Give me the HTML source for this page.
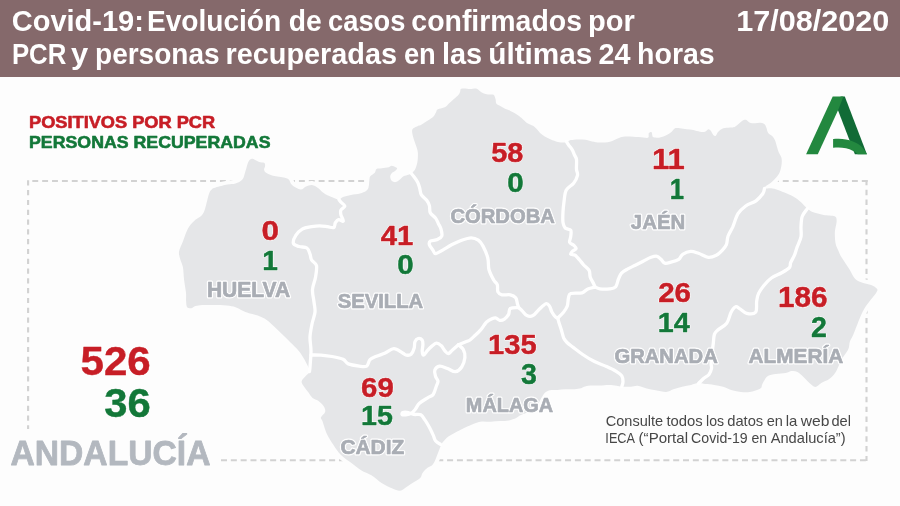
<!DOCTYPE html><html><head><meta charset="utf-8"><title>Covid-19 Andalucía</title>
<style>html,body{margin:0;padding:0;background:#fdfdfd;width:900px;height:506px;overflow:hidden}svg{display:block}</style></head><body>
<svg width="900" height="506" viewBox="0 0 900 506">
<rect width="900" height="506" fill="#fdfdfd"/>
<rect width="900" height="77" fill="#85696b"/>
<g stroke="#d2d2d2" stroke-width="2.1" fill="none"><line x1="32.3" y1="181" x2="868" y2="181" stroke-dasharray="5.9 3.975"/><line x1="24.4" y1="460.2" x2="867.4" y2="460.2" stroke-dasharray="6 3.83"/><line x1="28.1" y1="180.3" x2="28.1" y2="460" stroke-dasharray="5.2 4.6"/><line x1="866.5" y1="179.9" x2="866.5" y2="461" stroke-dasharray="5.4 4.46"/></g>
<rect x="0" y="429" width="218" height="46" fill="#fdfdfd"/>
<path d="M187,306.9 C186.2,305.7 186.3,303.5 186.1,301.1 C185.9,298.8 186.3,296.3 186,292.8 C185.7,289.3 184.6,284.3 184.1,280 C183.6,275.7 183.5,270.5 182.9,267.1 C182.3,263.7 181,262 180.3,259.4 C179.7,256.8 178.6,254.7 179,251.7 C179.4,248.7 181.4,245.2 182.9,241.4 C184.4,237.6 186.1,232 188,228.6 C189.9,225.2 191.8,223.4 194.4,220.8 C197,218.2 201,217.5 203.4,213.1 C205.8,208.7 207.4,198.4 208.8,194.5 C210.2,190.6 210.5,190.7 211.7,189.5 C212.8,188.3 213.1,188.3 215.7,187.5 C218.3,186.7 224.2,185.2 227.5,184.6 C230.8,183.9 233,184.4 235.5,183.6 C238,182.8 240.8,181.6 242.4,179.6 C244,177.6 244.3,174.6 245.3,171.7 C246.3,168.8 247.3,164 248.3,161.9 C249.3,159.8 250.2,159.2 251.3,158.9 C252.5,158.6 253.9,159.4 255.2,159.9 C256.5,160.4 257.7,161.4 259.2,161.9 C260.7,162.4 263.1,162.2 264.1,162.8 C265.1,163.5 265.1,164.6 265.1,165.8 C265.1,167 263.9,168.7 264.1,169.8 C264.3,171 264.6,171.7 266.1,172.7 C267.6,173.7 269.9,174.9 273,175.7 C276.1,176.5 282.3,177 284.9,177.7 C287.5,178.3 287.6,178.4 288.8,179.6 C290,180.8 290,183.3 292,185 C294,186.7 298.3,189.2 300.6,189.5 C302.9,189.8 304.1,187.2 306,186.5 C307.9,185.8 310,184.8 312,185 C314,185.2 316.2,186.8 318,188 C319.8,189.2 321.3,191.2 323,192.5 C324.7,193.8 326.2,194.6 328,195.5 C329.8,196.4 332.2,197.3 334,198 C335.8,198.7 337.5,199.7 339,199.5 C340.5,199.3 341,197.8 343,197 C345,196.2 348.2,195.6 351,195 C353.8,194.4 357.5,194.2 360,193.5 C362.5,192.8 364.6,192 366,191 C367.4,190 367.9,189.4 368.5,187.5 C369.1,185.6 369.1,181.6 369.4,179.7 C369.7,177.8 369.6,177.2 370.5,176 C371.4,174.8 373.8,173.9 374.8,172.7 C375.8,171.5 375.3,169.7 376.5,169 C377.7,168.3 379.8,168.6 381.8,168.3 C383.8,168 387.1,167.7 388.7,167.3 C390.3,166.9 390.5,165.8 391.7,165.8 C392.9,165.8 394.7,166.8 395.6,167.3 C396.5,167.8 397.3,168.1 397.1,168.8 C396.9,169.5 395.5,170.6 394.6,171.3 C393.7,172 392.4,172.3 391.7,173.2 C391,174.1 390.2,175.4 390.2,176.7 C390.2,177.9 390.8,179.8 391.7,180.7 C392.6,181.6 394.3,182.3 395.6,182.1 C396.9,181.9 398.3,180.7 399.6,179.7 C400.9,178.7 402,177 403.5,176.2 C405,175.4 407,175.3 408.5,174.7 C410,174.1 411.2,173.7 412.4,172.7 C413.5,171.7 414.6,170.6 415.4,168.8 C416.2,167 417,164.1 417.4,161.9 C417.8,159.8 417.9,157.9 417.9,155.9 C417.9,153.9 418.1,152.8 417.4,150 C416.7,147.2 414.7,142.3 413.8,139.3 C412.9,136.3 412.2,133.6 412.1,131.8 C412,130 412.3,129.3 413.3,128.3 C414.3,127.3 416.8,126.4 418,125.9 C419.2,125.4 419.4,125.8 420.4,125.3 C421.4,124.8 422.6,123.8 424,122.9 C425.4,122 427.1,121.1 428.7,120 C430.3,118.9 432.3,117.6 433.5,116.4 C434.7,115.2 435.2,113.9 435.8,112.8 C436.4,111.7 436.4,110.6 437,109.9 C437.6,109.2 438,109.2 439.4,108.7 C440.8,108.2 443.7,107.8 445.3,106.9 C446.9,106 447.5,104.7 448.9,103.4 C450.3,102.1 452,100.6 453.6,99.2 C455.2,97.8 457.3,96.3 458.4,95 C459.5,93.7 459.8,92.5 460.2,91.5 C460.6,90.5 460.1,89.6 460.8,89.1 C461.5,88.6 462.7,88.5 464.3,88.5 C465.9,88.5 468.2,89.1 470.2,89.1 C472.2,89.1 474.6,88.2 476.2,88.5 C477.8,88.8 478.5,90.1 479.7,90.9 C480.9,91.7 481.9,92.7 483.3,93.3 C484.7,93.9 486.4,94.3 488,94.5 C489.6,94.7 491.7,94.2 492.8,94.5 C493.9,94.8 494.1,95.3 494.6,96.2 C495.1,97.1 495.4,98.6 495.7,99.8 C496,101 495.6,102.4 496.3,103.4 C497,104.4 498.4,104.8 499.9,105.7 C501.3,106.6 503.6,108 505,108.7 C506.4,109.4 506.5,109.1 508,109.8 C509.5,110.5 512.2,111.8 514,112.8 C515.8,113.8 517.3,114.8 518.7,115.8 C520.1,116.8 520.9,117.5 522.3,118.7 C523.7,119.9 525.2,121.7 527,122.9 C528.8,124.1 531.4,124.8 533,125.8 C534.6,126.8 535.3,127.6 536.5,128.8 C537.7,130 538.7,131.7 540.1,133 C541.5,134.3 543,135.4 544.8,136.5 C546.6,137.6 548.6,138.6 550.8,139.5 C553,140.4 555.5,141.4 557.9,141.9 C560.3,142.4 563.2,142.5 565,142.4 C566.8,142.3 567.5,141.7 568.5,141.3 C569.5,140.9 569.3,140.4 570.9,140.1 C572.5,139.8 575.6,139.6 578,139.5 C580.4,139.4 582.9,139.5 585.2,139.8 C587.5,140.1 589.5,141.1 592,141.5 C594.5,141.9 597,142.5 600,142.5 C603,142.5 607,142.4 610,141.7 C613,141 616.1,139.1 618.3,138.3 C620.5,137.5 620.8,137 623.3,136.7 C625.8,136.4 630,136.6 633.3,136.7 C636.6,136.8 640.8,137.3 643.3,137.5 C645.8,137.7 647.3,138.2 648.2,137.6 C649.1,136.9 648.4,134.5 648.7,133.6 C649,132.7 649.5,132.4 650,132.2 C650.5,132 651.4,131.8 651.8,132.4 C652.2,133 652.1,135 652.4,135.8 C652.7,136.6 652.3,136.9 653.6,137.2 C654.9,137.5 657.8,137.9 660,137.5 C662.2,137.1 664.8,136 666.7,135 C668.7,134 670.3,132.8 671.7,131.7 C673.1,130.6 673.6,128.9 675,128.3 C676.4,127.7 678,128.2 680,128.3 C682,128.5 684.5,128.9 686.7,129.2 C688.9,129.5 691.1,129.6 693.3,130 C695.5,130.4 698,131.4 700,131.7 C702,132 703.6,132.1 705,131.7 C706.4,131.3 707.3,129.3 708.3,129.2 C709.3,129 710,129.8 710.8,130.8 C711.6,131.8 712.5,134.2 713.3,135 C714.1,135.8 715,136.4 715.8,135.8 C716.6,135.2 717,132.9 718.3,131.7 C719.5,130.4 721.3,129 723.3,128.3 C725.2,127.6 728,127.8 730,127.5 C732,127.2 732.9,127.8 735,126.7 C737.1,125.6 740.6,121.9 742.4,120.7 C744.2,119.5 744.8,119.5 746,119.8 C747.2,120.1 748,121.8 749.5,122.4 C751,123 753.1,123.2 754.9,123.3 C756.7,123.4 758.6,122.6 760.2,122.8 C761.8,123 763.6,123.4 764.6,124.2 C765.6,125 765.8,126.3 766.4,127.8 C767,129.3 767.2,131.6 768.2,133.1 C769.2,134.6 771.4,135.3 772.6,136.6 C773.8,137.9 774.5,139.3 775.3,141.1 C776,142.9 776.5,145.4 777.1,147.3 C777.7,149.2 778.1,150.8 778.8,152.6 C779.5,154.4 781,155.9 781.5,158 C782,160.1 781.8,162.7 781.5,165.1 C781.2,167.5 780.6,170.1 779.7,172.2 C778.8,174.3 777.7,175.7 776.2,177.5 C774.7,179.3 772.7,181.3 770.9,182.8 C769.1,184.3 766.6,185.5 765.5,186.4 C764.4,187.3 763.6,188.2 764.5,188.5 C765.4,188.8 768.6,188 770.9,188.2 C773.1,188.4 775.4,189 778,189.9 C780.6,190.8 783.8,192.2 786.8,193.5 C789.8,194.8 793.1,196.2 795.7,197.9 C798.3,199.6 800.3,201.6 802.3,203.4 C804.2,205.2 805.7,207.2 807.4,208.6 C809.1,210 809.9,211 812.6,212.1 C815.3,213.2 819.9,214.2 823.6,214.9 C827.3,215.6 832.5,215.2 834.7,216.3 C836.9,217.4 836.6,219.1 836.6,221.7 C836.6,224.2 835.1,228 834.9,231.6 C834.7,235.2 835,240.3 835.6,243.5 C836.2,246.7 837.5,248.7 838.5,251 C839.5,253.3 839.7,254.3 841.5,257.3 C843.3,260.3 847.1,265.6 849.4,269.2 C851.7,272.8 853,276.7 855.3,279 C857.6,281.3 860.6,282 863.2,283 C865.8,284 868.8,284 871.1,285 C873.4,286 876.3,287.6 877.1,288.9 C877.9,290.2 877.2,291 876.1,292.9 C875,294.8 872.4,297.5 870.5,300 C868.6,302.5 866.3,305.3 864.7,307.9 C863.1,310.5 862.1,312.8 860.8,315.8 C859.5,318.8 858.1,322.4 856.8,325.7 C855.5,329 854,333 852.9,335.6 C851.8,338.2 850.6,339.5 849.9,341.5 C849.2,343.5 849.4,345.8 848.9,347.4 C848.4,349 848,349.8 847,351.4 C846,353 844.3,355 843,357.3 C841.7,359.6 840.3,362.6 839,365.2 C837.7,367.8 836.7,370.8 835.1,373.1 C833.5,375.4 831.5,377.5 829.2,379.1 C826.9,380.8 823.6,381.7 821.3,383 C819,384.3 817.3,387 815.3,387 C813.3,387 811.4,384.6 809.4,383 C807.4,381.4 805.5,378.9 803.5,377.1 C801.5,375.3 799.5,373.1 797.5,372.1 C795.5,371.1 793.6,370.9 791.6,371.1 C789.6,371.3 788.3,372.6 785.7,373.1 C783.1,373.6 778.8,373.6 775.8,374.1 C772.8,374.6 769.9,375 767.9,376.1 C765.9,377.2 765,379.5 764,381 C763,382.5 762.6,383.8 762,385 C761.4,386.2 762.4,387.2 760.4,388.4 C758.4,389.6 753,391.4 749.8,392 C746.5,392.6 743.9,392.3 740.9,392 C737.9,391.7 735,391.1 732,390.2 C729,389.3 726.1,387.6 723.1,386.7 C720.1,385.8 717.2,385.3 714.2,384.9 C711.2,384.4 708,384.3 705.3,384 C702.6,383.7 700.6,383 698.2,383.1 C695.8,383.2 693.8,384.3 691.1,384.9 C688.4,385.5 685.2,386 682.2,386.7 C679.2,387.4 676,388.4 673.3,389.3 C670.6,390.2 669.2,391.9 666.2,392 C663.2,392.1 658.9,390.8 655.6,390.2 C652.4,389.6 649.7,389.1 646.7,388.4 C643.7,387.7 640.5,386.1 637.8,385.8 C635.1,385.5 633.4,386.6 630.7,386.7 C628,386.8 624.1,386.9 621.8,386.7 C619.4,386.5 618.8,386 616.6,385.7 C614.5,385.4 611.8,385 608.9,385 C606,385 602.6,385.4 599.5,385.5 C596.4,385.6 592.8,385.3 590.2,385.5 C587.6,385.7 585.5,386.3 584,386.8 C582.5,387.3 582.5,387.9 580.9,388.3 C579.3,388.7 577.2,389.1 574.6,389.3 C572,389.5 568.1,389.2 565.3,389.3 C562.4,389.4 559.8,389.9 557.5,390 C555.2,390.1 553.1,389.8 551.3,390 C549.5,390.2 548,390.6 546.7,391.4 C545.4,392.1 545,392.3 543.5,394.5 C542,396.7 539.3,402.2 537.4,404.8 C535.5,407.4 534.1,408.6 532,410 C529.9,411.4 526.8,412.6 524.8,413.5 C522.8,414.4 521.3,414.9 519.9,415.6 C518.5,416.4 518,417.2 516.2,418 C514.4,418.8 511.5,420 508.9,420.5 C506.2,421 503.4,420.9 500.3,421.1 C497.2,421.3 493.7,421.6 490.6,421.7 C487.6,421.8 484.4,421.3 482,421.5 C479.6,421.7 478.3,422.1 475.9,423 C473.4,423.9 469.6,425.6 467.3,426.6 C465,427.6 464.3,427.9 462.3,428.9 C460.3,429.9 457.7,431.1 455.4,432.4 C453.1,433.7 450.5,434.9 448.4,436.5 C446.3,438.1 444.3,440.2 442.9,442.1 C441.5,444 441,445.5 440.1,447.6 C439.2,449.7 438.3,452.2 437.4,454.5 C436.5,456.8 435.5,459.6 434.6,461.4 C433.7,463.2 432.9,464.5 431.8,465.5 C430.7,466.5 429.4,466.4 427.9,467.6 C426.4,468.8 424,471 422.7,472.7 C421.4,474.4 421.9,476.2 420.2,477.9 C418.5,479.6 415.1,481.3 412.5,483 C409.9,484.7 406.9,486.9 404.8,488.2 C402.7,489.5 401.8,490.7 399.6,490.7 C397.5,490.7 394.9,489.5 391.9,488.2 C388.9,486.9 385,485.1 381.6,483 C378.2,480.9 374.8,477.4 371.4,475.3 C368,473.2 364.5,472.3 361.1,470.2 C357.7,468.1 354.2,465 350.8,462.5 C347.4,460 343.9,457.9 341,455 C338.1,452.1 335.8,448.5 333.5,445 C331.2,441.5 328.8,438.1 327,434.2 C325.2,430.3 323.6,424.2 322.6,421.4 C321.6,418.6 320.5,419 320.9,417.4 C321.3,415.8 324.6,413.8 325.1,411.9 C325.6,410 324.9,408.1 323.7,406.3 C322.5,404.5 320,402.2 318.2,400.8 C316.4,399.4 314.2,399.4 312.6,398 C311,396.6 309.9,394.3 308.5,392.5 C307.1,390.7 305.4,388.9 304.3,387 C303.2,385.1 301.4,383.2 301.6,381.4 C301.8,379.5 304.3,377.5 305.7,375.9 C307.1,374.3 309.4,373.1 309.9,371.7 C310.4,370.3 309.4,369.7 308.5,367.6 C307.6,365.5 305.9,362.1 304.3,359.3 C302.7,356.5 301.1,353.7 298.8,350.9 C296.5,348.1 293.3,345.4 290.5,342.6 C287.7,339.8 284.9,337 282.2,334.3 C279.5,331.6 277,329.1 274.4,326.7 C271.8,324.3 269.5,321.9 266.7,320 C263.9,318.1 260.8,316.7 257.8,315.6 C254.8,314.5 251.5,314.1 248.9,313.3 C246.3,312.5 244.4,311.6 242.2,310.6 C240,309.6 238.2,308 235.6,307.2 C233,306.4 230.4,306 226.7,305.6 C223,305.2 217.4,305.1 213.3,305 C209.2,304.9 205.1,304.8 202.2,305 C199.2,305.2 197.4,305.6 195.6,306.1 C193.8,306.7 192.5,308.2 191.1,308.3 C189.7,308.4 187.8,308.1 187,306.9 Z" fill="#fdfdfd" stroke="#fdfdfd" stroke-width="8" stroke-linejoin="round"/>
<path d="M187,306.9 C186.2,305.7 186.3,303.5 186.1,301.1 C185.9,298.8 186.3,296.3 186,292.8 C185.7,289.3 184.6,284.3 184.1,280 C183.6,275.7 183.5,270.5 182.9,267.1 C182.3,263.7 181,262 180.3,259.4 C179.7,256.8 178.6,254.7 179,251.7 C179.4,248.7 181.4,245.2 182.9,241.4 C184.4,237.6 186.1,232 188,228.6 C189.9,225.2 191.8,223.4 194.4,220.8 C197,218.2 201,217.5 203.4,213.1 C205.8,208.7 207.4,198.4 208.8,194.5 C210.2,190.6 210.5,190.7 211.7,189.5 C212.8,188.3 213.1,188.3 215.7,187.5 C218.3,186.7 224.2,185.2 227.5,184.6 C230.8,183.9 233,184.4 235.5,183.6 C238,182.8 240.8,181.6 242.4,179.6 C244,177.6 244.3,174.6 245.3,171.7 C246.3,168.8 247.3,164 248.3,161.9 C249.3,159.8 250.2,159.2 251.3,158.9 C252.5,158.6 253.9,159.4 255.2,159.9 C256.5,160.4 257.7,161.4 259.2,161.9 C260.7,162.4 263.1,162.2 264.1,162.8 C265.1,163.5 265.1,164.6 265.1,165.8 C265.1,167 263.9,168.7 264.1,169.8 C264.3,171 264.6,171.7 266.1,172.7 C267.6,173.7 269.9,174.9 273,175.7 C276.1,176.5 282.3,177 284.9,177.7 C287.5,178.3 287.6,178.4 288.8,179.6 C290,180.8 290,183.3 292,185 C294,186.7 298.3,189.2 300.6,189.5 C302.9,189.8 304.1,187.2 306,186.5 C307.9,185.8 310,184.8 312,185 C314,185.2 316.2,186.8 318,188 C319.8,189.2 321.3,191.2 323,192.5 C324.7,193.8 326.2,194.6 328,195.5 C329.8,196.4 332.2,197.3 334,198 C335.8,198.7 337.5,199.7 339,199.5 C340.5,199.3 341,197.8 343,197 C345,196.2 348.2,195.6 351,195 C353.8,194.4 357.5,194.2 360,193.5 C362.5,192.8 364.6,192 366,191 C367.4,190 367.9,189.4 368.5,187.5 C369.1,185.6 369.1,181.6 369.4,179.7 C369.7,177.8 369.6,177.2 370.5,176 C371.4,174.8 373.8,173.9 374.8,172.7 C375.8,171.5 375.3,169.7 376.5,169 C377.7,168.3 379.8,168.6 381.8,168.3 C383.8,168 387.1,167.7 388.7,167.3 C390.3,166.9 390.5,165.8 391.7,165.8 C392.9,165.8 394.7,166.8 395.6,167.3 C396.5,167.8 397.3,168.1 397.1,168.8 C396.9,169.5 395.5,170.6 394.6,171.3 C393.7,172 392.4,172.3 391.7,173.2 C391,174.1 390.2,175.4 390.2,176.7 C390.2,177.9 390.8,179.8 391.7,180.7 C392.6,181.6 394.3,182.3 395.6,182.1 C396.9,181.9 398.3,180.7 399.6,179.7 C400.9,178.7 402,177 403.5,176.2 C405,175.4 407,175.3 408.5,174.7 C410,174.1 411.2,173.7 412.4,172.7 C413.5,171.7 414.6,170.6 415.4,168.8 C416.2,167 417,164.1 417.4,161.9 C417.8,159.8 417.9,157.9 417.9,155.9 C417.9,153.9 418.1,152.8 417.4,150 C416.7,147.2 414.7,142.3 413.8,139.3 C412.9,136.3 412.2,133.6 412.1,131.8 C412,130 412.3,129.3 413.3,128.3 C414.3,127.3 416.8,126.4 418,125.9 C419.2,125.4 419.4,125.8 420.4,125.3 C421.4,124.8 422.6,123.8 424,122.9 C425.4,122 427.1,121.1 428.7,120 C430.3,118.9 432.3,117.6 433.5,116.4 C434.7,115.2 435.2,113.9 435.8,112.8 C436.4,111.7 436.4,110.6 437,109.9 C437.6,109.2 438,109.2 439.4,108.7 C440.8,108.2 443.7,107.8 445.3,106.9 C446.9,106 447.5,104.7 448.9,103.4 C450.3,102.1 452,100.6 453.6,99.2 C455.2,97.8 457.3,96.3 458.4,95 C459.5,93.7 459.8,92.5 460.2,91.5 C460.6,90.5 460.1,89.6 460.8,89.1 C461.5,88.6 462.7,88.5 464.3,88.5 C465.9,88.5 468.2,89.1 470.2,89.1 C472.2,89.1 474.6,88.2 476.2,88.5 C477.8,88.8 478.5,90.1 479.7,90.9 C480.9,91.7 481.9,92.7 483.3,93.3 C484.7,93.9 486.4,94.3 488,94.5 C489.6,94.7 491.7,94.2 492.8,94.5 C493.9,94.8 494.1,95.3 494.6,96.2 C495.1,97.1 495.4,98.6 495.7,99.8 C496,101 495.6,102.4 496.3,103.4 C497,104.4 498.4,104.8 499.9,105.7 C501.3,106.6 503.6,108 505,108.7 C506.4,109.4 506.5,109.1 508,109.8 C509.5,110.5 512.2,111.8 514,112.8 C515.8,113.8 517.3,114.8 518.7,115.8 C520.1,116.8 520.9,117.5 522.3,118.7 C523.7,119.9 525.2,121.7 527,122.9 C528.8,124.1 531.4,124.8 533,125.8 C534.6,126.8 535.3,127.6 536.5,128.8 C537.7,130 538.7,131.7 540.1,133 C541.5,134.3 543,135.4 544.8,136.5 C546.6,137.6 548.6,138.6 550.8,139.5 C553,140.4 555.5,141.4 557.9,141.9 C560.3,142.4 563.2,142.5 565,142.4 C566.8,142.3 567.5,141.7 568.5,141.3 C569.5,140.9 569.3,140.4 570.9,140.1 C572.5,139.8 575.6,139.6 578,139.5 C580.4,139.4 582.9,139.5 585.2,139.8 C587.5,140.1 589.5,141.1 592,141.5 C594.5,141.9 597,142.5 600,142.5 C603,142.5 607,142.4 610,141.7 C613,141 616.1,139.1 618.3,138.3 C620.5,137.5 620.8,137 623.3,136.7 C625.8,136.4 630,136.6 633.3,136.7 C636.6,136.8 640.8,137.3 643.3,137.5 C645.8,137.7 647.3,138.2 648.2,137.6 C649.1,136.9 648.4,134.5 648.7,133.6 C649,132.7 649.5,132.4 650,132.2 C650.5,132 651.4,131.8 651.8,132.4 C652.2,133 652.1,135 652.4,135.8 C652.7,136.6 652.3,136.9 653.6,137.2 C654.9,137.5 657.8,137.9 660,137.5 C662.2,137.1 664.8,136 666.7,135 C668.7,134 670.3,132.8 671.7,131.7 C673.1,130.6 673.6,128.9 675,128.3 C676.4,127.7 678,128.2 680,128.3 C682,128.5 684.5,128.9 686.7,129.2 C688.9,129.5 691.1,129.6 693.3,130 C695.5,130.4 698,131.4 700,131.7 C702,132 703.6,132.1 705,131.7 C706.4,131.3 707.3,129.3 708.3,129.2 C709.3,129 710,129.8 710.8,130.8 C711.6,131.8 712.5,134.2 713.3,135 C714.1,135.8 715,136.4 715.8,135.8 C716.6,135.2 717,132.9 718.3,131.7 C719.5,130.4 721.3,129 723.3,128.3 C725.2,127.6 728,127.8 730,127.5 C732,127.2 732.9,127.8 735,126.7 C737.1,125.6 740.6,121.9 742.4,120.7 C744.2,119.5 744.8,119.5 746,119.8 C747.2,120.1 748,121.8 749.5,122.4 C751,123 753.1,123.2 754.9,123.3 C756.7,123.4 758.6,122.6 760.2,122.8 C761.8,123 763.6,123.4 764.6,124.2 C765.6,125 765.8,126.3 766.4,127.8 C767,129.3 767.2,131.6 768.2,133.1 C769.2,134.6 771.4,135.3 772.6,136.6 C773.8,137.9 774.5,139.3 775.3,141.1 C776,142.9 776.5,145.4 777.1,147.3 C777.7,149.2 778.1,150.8 778.8,152.6 C779.5,154.4 781,155.9 781.5,158 C782,160.1 781.8,162.7 781.5,165.1 C781.2,167.5 780.6,170.1 779.7,172.2 C778.8,174.3 777.7,175.7 776.2,177.5 C774.7,179.3 772.7,181.3 770.9,182.8 C769.1,184.3 766.6,185.5 765.5,186.4 C764.4,187.3 763.6,188.2 764.5,188.5 C765.4,188.8 768.6,188 770.9,188.2 C773.1,188.4 775.4,189 778,189.9 C780.6,190.8 783.8,192.2 786.8,193.5 C789.8,194.8 793.1,196.2 795.7,197.9 C798.3,199.6 800.3,201.6 802.3,203.4 C804.2,205.2 805.7,207.2 807.4,208.6 C809.1,210 809.9,211 812.6,212.1 C815.3,213.2 819.9,214.2 823.6,214.9 C827.3,215.6 832.5,215.2 834.7,216.3 C836.9,217.4 836.6,219.1 836.6,221.7 C836.6,224.2 835.1,228 834.9,231.6 C834.7,235.2 835,240.3 835.6,243.5 C836.2,246.7 837.5,248.7 838.5,251 C839.5,253.3 839.7,254.3 841.5,257.3 C843.3,260.3 847.1,265.6 849.4,269.2 C851.7,272.8 853,276.7 855.3,279 C857.6,281.3 860.6,282 863.2,283 C865.8,284 868.8,284 871.1,285 C873.4,286 876.3,287.6 877.1,288.9 C877.9,290.2 877.2,291 876.1,292.9 C875,294.8 872.4,297.5 870.5,300 C868.6,302.5 866.3,305.3 864.7,307.9 C863.1,310.5 862.1,312.8 860.8,315.8 C859.5,318.8 858.1,322.4 856.8,325.7 C855.5,329 854,333 852.9,335.6 C851.8,338.2 850.6,339.5 849.9,341.5 C849.2,343.5 849.4,345.8 848.9,347.4 C848.4,349 848,349.8 847,351.4 C846,353 844.3,355 843,357.3 C841.7,359.6 840.3,362.6 839,365.2 C837.7,367.8 836.7,370.8 835.1,373.1 C833.5,375.4 831.5,377.5 829.2,379.1 C826.9,380.8 823.6,381.7 821.3,383 C819,384.3 817.3,387 815.3,387 C813.3,387 811.4,384.6 809.4,383 C807.4,381.4 805.5,378.9 803.5,377.1 C801.5,375.3 799.5,373.1 797.5,372.1 C795.5,371.1 793.6,370.9 791.6,371.1 C789.6,371.3 788.3,372.6 785.7,373.1 C783.1,373.6 778.8,373.6 775.8,374.1 C772.8,374.6 769.9,375 767.9,376.1 C765.9,377.2 765,379.5 764,381 C763,382.5 762.6,383.8 762,385 C761.4,386.2 762.4,387.2 760.4,388.4 C758.4,389.6 753,391.4 749.8,392 C746.5,392.6 743.9,392.3 740.9,392 C737.9,391.7 735,391.1 732,390.2 C729,389.3 726.1,387.6 723.1,386.7 C720.1,385.8 717.2,385.3 714.2,384.9 C711.2,384.4 708,384.3 705.3,384 C702.6,383.7 700.6,383 698.2,383.1 C695.8,383.2 693.8,384.3 691.1,384.9 C688.4,385.5 685.2,386 682.2,386.7 C679.2,387.4 676,388.4 673.3,389.3 C670.6,390.2 669.2,391.9 666.2,392 C663.2,392.1 658.9,390.8 655.6,390.2 C652.4,389.6 649.7,389.1 646.7,388.4 C643.7,387.7 640.5,386.1 637.8,385.8 C635.1,385.5 633.4,386.6 630.7,386.7 C628,386.8 624.1,386.9 621.8,386.7 C619.4,386.5 618.8,386 616.6,385.7 C614.5,385.4 611.8,385 608.9,385 C606,385 602.6,385.4 599.5,385.5 C596.4,385.6 592.8,385.3 590.2,385.5 C587.6,385.7 585.5,386.3 584,386.8 C582.5,387.3 582.5,387.9 580.9,388.3 C579.3,388.7 577.2,389.1 574.6,389.3 C572,389.5 568.1,389.2 565.3,389.3 C562.4,389.4 559.8,389.9 557.5,390 C555.2,390.1 553.1,389.8 551.3,390 C549.5,390.2 548,390.6 546.7,391.4 C545.4,392.1 545,392.3 543.5,394.5 C542,396.7 539.3,402.2 537.4,404.8 C535.5,407.4 534.1,408.6 532,410 C529.9,411.4 526.8,412.6 524.8,413.5 C522.8,414.4 521.3,414.9 519.9,415.6 C518.5,416.4 518,417.2 516.2,418 C514.4,418.8 511.5,420 508.9,420.5 C506.2,421 503.4,420.9 500.3,421.1 C497.2,421.3 493.7,421.6 490.6,421.7 C487.6,421.8 484.4,421.3 482,421.5 C479.6,421.7 478.3,422.1 475.9,423 C473.4,423.9 469.6,425.6 467.3,426.6 C465,427.6 464.3,427.9 462.3,428.9 C460.3,429.9 457.7,431.1 455.4,432.4 C453.1,433.7 450.5,434.9 448.4,436.5 C446.3,438.1 444.3,440.2 442.9,442.1 C441.5,444 441,445.5 440.1,447.6 C439.2,449.7 438.3,452.2 437.4,454.5 C436.5,456.8 435.5,459.6 434.6,461.4 C433.7,463.2 432.9,464.5 431.8,465.5 C430.7,466.5 429.4,466.4 427.9,467.6 C426.4,468.8 424,471 422.7,472.7 C421.4,474.4 421.9,476.2 420.2,477.9 C418.5,479.6 415.1,481.3 412.5,483 C409.9,484.7 406.9,486.9 404.8,488.2 C402.7,489.5 401.8,490.7 399.6,490.7 C397.5,490.7 394.9,489.5 391.9,488.2 C388.9,486.9 385,485.1 381.6,483 C378.2,480.9 374.8,477.4 371.4,475.3 C368,473.2 364.5,472.3 361.1,470.2 C357.7,468.1 354.2,465 350.8,462.5 C347.4,460 343.9,457.9 341,455 C338.1,452.1 335.8,448.5 333.5,445 C331.2,441.5 328.8,438.1 327,434.2 C325.2,430.3 323.6,424.2 322.6,421.4 C321.6,418.6 320.5,419 320.9,417.4 C321.3,415.8 324.6,413.8 325.1,411.9 C325.6,410 324.9,408.1 323.7,406.3 C322.5,404.5 320,402.2 318.2,400.8 C316.4,399.4 314.2,399.4 312.6,398 C311,396.6 309.9,394.3 308.5,392.5 C307.1,390.7 305.4,388.9 304.3,387 C303.2,385.1 301.4,383.2 301.6,381.4 C301.8,379.5 304.3,377.5 305.7,375.9 C307.1,374.3 309.4,373.1 309.9,371.7 C310.4,370.3 309.4,369.7 308.5,367.6 C307.6,365.5 305.9,362.1 304.3,359.3 C302.7,356.5 301.1,353.7 298.8,350.9 C296.5,348.1 293.3,345.4 290.5,342.6 C287.7,339.8 284.9,337 282.2,334.3 C279.5,331.6 277,329.1 274.4,326.7 C271.8,324.3 269.5,321.9 266.7,320 C263.9,318.1 260.8,316.7 257.8,315.6 C254.8,314.5 251.5,314.1 248.9,313.3 C246.3,312.5 244.4,311.6 242.2,310.6 C240,309.6 238.2,308 235.6,307.2 C233,306.4 230.4,306 226.7,305.6 C223,305.2 217.4,305.1 213.3,305 C209.2,304.9 205.1,304.8 202.2,305 C199.2,305.2 197.4,305.6 195.6,306.1 C193.8,306.7 192.5,308.2 191.1,308.3 C189.7,308.4 187.8,308.1 187,306.9 Z" fill="#e5e6e8"/>
<g fill="none" stroke="#fff" stroke-width="3.3" stroke-linejoin="round" stroke-linecap="round">
<path d="M339,199.5 C339.3,199.9 339.9,201.1 340.9,202.2 C341.9,203.3 344.9,204.8 344.9,206.1 C344.9,207.4 341.6,208.6 340.9,210.1 C340.2,211.6 340.5,213 340.9,214.8 C341.3,216.6 343.7,220.3 343.3,221.1 C342.9,221.9 339.8,219.3 338.5,219.6 C337.2,219.9 336.2,221.4 335.4,222.7 C334.6,224 335.1,226.8 333.8,227.5 C332.5,228.2 329.9,227 327.5,226.7 C325.1,226.4 322.2,225.9 319.6,225.9 C317,225.9 314.5,226.2 311.6,226.7 C308.7,227.2 304.8,227.6 302.2,229.1 C299.6,230.6 297.3,233 295.8,235.4 C294.3,237.8 292.9,241.5 293.4,243.3 C293.9,245.2 296.8,245.7 299,246.5 C301.2,247.3 305,246.7 306.9,248 C308.8,249.3 309.3,252.4 310.1,254.4 C310.9,256.4 310.5,258.1 311.6,260 C312.7,261.9 315.9,262.7 316.5,265.6 C317.1,268.5 316.2,273.4 315.5,277.4 C314.8,281.4 312.8,285.4 312.5,289.5 C312.2,293.6 313.6,298.2 314,302 C314.4,305.8 315.3,308.3 315,312 C314.7,315.7 312.8,319.8 312,324 C311.2,328.2 310.2,332.5 310,337 C309.8,341.5 311,346 311,351 C311,356 310.2,363.6 310,367 C309.8,370.4 309.6,370.8 309.5,371.5"/>
<path d="M311,355 C312.6,355 317.4,354.9 320.9,355.1 C324.4,355.4 328.3,355.8 332,356.5 C335.7,357.2 340.4,358.1 343.1,359.3 C345.8,360.5 345.6,362.8 348.3,363.9 C351,365 356,365.7 359.1,366.1 C362.2,366.5 364.9,367.2 366.7,366.1 C368.5,365 368.4,361.2 370,359.6 C371.6,358 374,357.4 376.5,356.3 C379,355.2 382.3,354.3 385.2,353 C388.1,351.7 391,348.7 393.9,348.7 C396.8,348.7 400.5,351.9 402.6,353 C404.7,354.1 404.9,354.9 406.3,355.1 C407.7,355.3 409.8,355.5 411.1,354.3 C412.4,353.1 413.6,350.1 414.2,348 C414.8,345.9 414.3,343.2 415,341.6 C415.7,340 417,338.8 418.2,338.5 C419.4,338.2 421.4,339.1 422.2,340.1 C423,341.2 422.9,343 422.9,344.8 C422.9,346.6 422.1,349.4 422.2,351.1 C422.3,352.8 422.9,355.1 423.7,355.1 C424.5,355.1 425.6,352.6 426.9,351.1 C428.2,349.7 430,347.7 431.6,346.4 C433.2,345.1 434.8,343.3 436.4,343.2 C438,343.1 439.7,344.3 441.1,345.6 C442.6,346.9 443.9,349.8 445.1,351.1 C446.3,352.4 447.1,353.6 448.3,353.5 C449.5,353.4 450.5,351.8 452.2,350.3 C453.9,348.9 457.4,345.7 458.5,344.8"/>
<path d="M458.5,344.8 C459.8,344.3 464.6,342.4 466.5,341.6 C468.4,340.8 468.6,341 470,340 C471.4,339 472.9,337.5 474.7,335.8 C476.5,334.1 479.1,331.6 480.7,329.8 C482.3,328 483.2,326.4 484.2,325.1 C485.2,323.8 485.4,323.1 486.6,322.1 C487.8,321.1 489.9,319.8 491.4,319.1 C492.9,318.4 494.1,317.7 495.5,317.9 C496.9,318.1 498.2,320.1 499.7,320.3 C501.2,320.5 502.9,320.1 504.4,319.1 C505.9,318.1 507.6,316.2 508.6,314.4 C509.6,312.6 508.6,309.6 510.3,308.5 C512,307.4 517.2,307.7 518.6,307.5"/>
<path d="M518.6,307.5 C519.2,308.1 520.8,309.4 522.2,310.8 C523.6,312.2 525.1,314.8 526.9,315.6 C528.7,316.4 530.9,316.6 532.9,315.6 C534.9,314.6 536.6,311.7 538.8,309.7 C541,307.7 544.1,304.3 545.9,303.7 C547.7,303.1 548.5,304.7 549.5,306.1 C550.5,307.5 550.9,310.2 551.9,312 C552.9,313.8 554.4,315.8 555.4,316.8 C556.4,317.8 557.4,317.8 557.8,318"/>
<path d="M410.7,172.7 C411.3,173.4 413,175.5 414.2,177.1 C415.4,178.7 416.9,180.7 417.8,182.5 C418.7,184.3 419,185.7 419.6,187.8 C420.2,189.9 420.2,192.8 421.4,194.9 C422.6,197 425.4,198.5 426.7,200.3 C428,202.1 428.8,203.5 429.4,205.6 C430,207.7 429.3,210.6 430.3,212.7 C431.3,214.8 434.3,216.3 435.6,218.1 C436.9,219.9 437.4,221.6 438.3,223.4 C439.2,225.2 440.3,226.6 440.9,228.7 C441.5,230.8 442.4,234.1 441.8,235.9 C441.2,237.7 439.3,238.5 437.4,239.4 C435.5,240.3 431.6,240.3 430.3,241.2 C429,242.1 429,243.3 429.4,244.8 C429.8,246.3 431.9,248.6 432.9,250.1 C433.9,251.6 434,253.7 435.6,253.7 C437.2,253.7 440,251.6 442.7,250.1 C445.4,248.6 448.4,246.5 451.6,244.8 C454.8,243.2 458.4,241.4 461.7,240.2 C465,239 468.4,237.8 471.2,237.8 C474,237.8 476.3,238.8 478.3,240.2 C480.3,241.6 481.4,243.1 483,246.1 C484.6,249.1 486.8,254.1 487.8,258 C488.8,261.9 488,266.1 489,269.8 C490,273.5 492.3,277.5 493.7,280 C495.1,282.5 496.6,282.7 497.3,284.7 C498,286.7 497.1,290.2 497.9,291.9 C498.7,293.6 499.9,294.3 502,294.8 C504.1,295.3 508,294.3 510.3,294.8 C512.6,295.3 514.5,296.3 515.7,297.8 C516.9,299.3 516.9,302.1 517.4,303.7 C517.9,305.3 518.4,306.9 518.6,307.5"/>
<path d="M566.5,141.5 C566.8,142.1 567.6,143.5 568.5,144.8 C569.4,146.2 571.1,147.9 572.1,149.6 C573.1,151.3 573.8,153.3 574.5,155 C575.2,156.7 576.2,157.1 576.5,159.5 C576.8,161.9 576.3,166.8 576.5,169.4 C576.7,172 578,173 577.5,175.3 C577,177.6 575.5,180.8 573.6,183.2 C571.7,185.6 567.9,187.1 566.3,190 C564.7,192.9 564.6,197.3 564.1,200.9 C563.6,204.5 563.2,208.1 563,211.7 C562.8,215.3 562.6,219.9 563,222.6 C563.4,225.3 563.9,226.7 565.2,228 C566.5,229.3 569.8,228.8 570.7,230.2 C571.6,231.6 570.9,234.7 570.7,236.7 C570.5,238.7 569.1,240.8 569.6,242.2 C570.1,243.6 572.8,244.3 573.9,245.4 C575,246.5 576.3,247.8 576.1,248.7 C575.9,249.6 573.7,250 572.8,250.9 C571.9,251.8 570.3,253.4 570.7,254.1 C571.1,254.8 573.6,254.3 575,255.2 C576.4,256.1 577.8,258 579.3,259.6 C580.8,261.2 582.1,263.2 583.7,265 C585.3,266.8 588,268.4 589.1,270.4 C590.2,272.4 589.5,274.8 590.2,277 C590.9,279.2 592.7,281.8 593.5,283.5 C594.3,285.2 594.8,286.4 595,287"/>
<path d="M595,287 C595.8,287.3 597.4,288.6 599.8,288.9 C602.2,289.2 607,289.2 609.6,288.9 C612.2,288.6 614.1,288.5 615.6,286.9 C617.1,285.2 617.5,281.3 618.5,279 C619.5,276.7 620,274.8 621.5,273.1 C623,271.5 625.1,270.4 627.4,269.1 C629.7,267.8 632.7,266.5 635.3,265.2 C637.9,263.9 640.6,262.5 643.2,261.2 C645.8,259.9 648.8,258.1 651.1,257.3 C653.4,256.5 655.4,256 657,256.3 C658.6,256.6 659.7,258.2 661,259.3 C662.3,260.4 663.2,262.7 664.9,263.2 C666.5,263.7 668.6,262.8 670.9,262.2 C673.2,261.6 676.8,260.6 678.8,259.3 C680.8,258 680.7,255.6 682.7,254.3 C684.7,253 688,251.6 690.6,251.4 C693.2,251.2 695.5,252.3 698.5,253.3 C701.5,254.3 705.4,257 708.4,257.3 C711.4,257.6 714,256.4 716.3,255.3 C718.6,254.2 720.5,252.2 722.2,250.4 C723.9,248.6 725.4,247 726.4,244.6 C727.4,242.2 727,239 728.1,236 C729.2,233 731.2,230.3 732.9,226.6 C734.5,222.9 735.9,217.1 738,213.7 C740.1,210.3 742.7,208.2 745.7,206 C748.7,203.8 753.1,202.9 756,200.8 C758.9,198.7 761.5,195.6 762.9,193.5 C764.3,191.4 764.2,189.3 764.5,188.5"/>
<path d="M595,287 C593.8,287.3 590.1,287.9 587.9,288.9 C585.7,289.9 584.9,292 582,292.8 C579.1,293.6 573,292.7 570.8,293.5 C568.5,294.3 569.1,295.7 568.5,297.8 C567.9,299.9 568.1,303.7 567.3,306.1 C566.5,308.5 565.3,310 563.7,312 C562.1,314 558.8,317 557.8,318"/>
<path d="M557.8,318 C558,318.8 558.4,320.7 559,322.7 C559.6,324.7 560.5,327.2 561.3,329.8 C562.1,332.4 562.8,335.9 563.7,338 C564.7,340.1 565.4,340.9 567,342.5 C568.6,344.1 570.6,345.4 573.2,347.4 C575.8,349.4 579.2,352.1 582.7,354.5 C586.2,356.9 590.5,359.6 594.5,361.6 C598.5,363.6 602.9,364.8 606.4,366.4 C609.9,368 613.2,369.5 615.8,371.1 C618.4,372.7 620.6,374 621.8,375.8 C623,377.6 623,380 623,381.8 C623,383.6 622,385.7 621.8,386.5"/>
<path d="M807.4,208.6 C806.5,209.9 803.4,213.3 802.3,216.3 C801.2,219.3 801.2,223.2 801,226.6 C800.8,230 801.6,233.4 801,236.8 C800.4,240.2 798.2,244.1 797.1,247.1 C796,250.1 795.7,252.2 794.6,254.8 C793.5,257.4 791.6,260.4 790.7,262.5 C789.8,264.6 790.9,266 789.4,267.7 C787.9,269.4 784.7,271.1 781.7,272.8 C778.7,274.5 774.4,275.9 771.4,278 C768.4,280.1 765.8,283.1 763.7,285.7 C761.6,288.3 759.8,290.8 758.6,293.4 C757.4,296 757.2,298 756.7,301.1 C756.2,304.2 757.3,310.2 755.6,312.2 C753.9,314.2 749.3,313.9 746.7,313.3 C744.1,312.8 741.9,310 740,308.9 C738.1,307.8 737.1,306.1 735.6,306.7 C734.1,307.2 732.6,309.4 731.1,312.2 C729.6,315 728.9,320.3 726.7,323.3 C724.5,326.3 719.8,328.1 717.8,330 C715.8,331.9 715.1,332.2 714.4,334.4 C713.6,336.6 713.7,340.3 713.3,343.3 C712.9,346.3 712.6,348.9 712.2,352.2 C711.8,355.5 711.2,360.6 711.1,363.3 C711,366 711.9,366.6 711.5,368.5 C711.1,370.4 710.3,372.8 709,374.5 C707.7,376.2 705.4,377 703.6,378.5 C701.9,380 699.4,382.7 698.5,383.5"/>
<path d="M458.5,344.8 C459.3,345.6 462.2,347.5 463.3,349.6 C464.4,351.7 465.2,354.6 464.9,357.5 C464.6,360.4 463.3,364.6 461.7,367 C460.1,369.4 457.8,371.4 455.4,371.7 C453,371.9 450.1,369.4 447.5,368.5 C444.9,367.6 441.7,365.9 439.6,366.2 C437.5,366.5 435.5,368.4 434.8,370.1 C434.1,371.8 435.1,374.6 435.6,376.5 C436.1,378.4 437.9,379.6 438,381.2 C438.1,382.8 437.2,383.8 436.4,386 C435.6,388.2 434.6,392.5 433.2,394.5 C431.8,396.5 430,396.3 427.7,397.8 C425.4,399.3 421.5,401.4 419.4,403.3 C417.3,405.2 416.6,407.8 415.2,409.5 C413.8,411.2 412.7,412.5 411.1,413.4 C409.5,414.3 407,414.6 405.5,414.8 C404,415 402.6,415 402.1,414.6 C401.7,414.2 402,413 402.8,412.6 C403.6,412.2 405.1,412 406.9,412.3 C408.7,412.6 411.5,414 413.8,414.4 C416.1,414.8 419,413.9 420.8,414.8 C422.6,415.7 423.5,417.9 424.9,419.9 C426.3,421.9 427.7,424.3 429.1,426.8 C430.5,429.3 432.1,432.8 433.2,435.1 C434.3,437.4 434.2,439.1 435.5,440.7 C436.8,442.3 439.8,443.9 440.7,444.5"/>
</g>
<g><polygon points="840.6,96.5 844.8,96.5 866.9,154.2 854.9,154.2 837.7,109.4" fill="#116b36"/><polygon points="832.7,96.5 843.4,96.5 838.4,109.4 817.8,154.2 806.1,154.2" fill="#23883f"/><path d="M833.1,139.1 C840,138.3 847,139 853,141.4 C859,143.5 864,148 866.9,154.2 L857.6,154.2 C855,151.5 851,149.3 846,148.2 C841,147.3 837,147.5 833.1,147.8 Z" fill="#23883f"/></g>
<text x="11.74" y="31.10" font-family='"Liberation Sans", Arial, sans-serif' font-weight="bold" font-size="30.14" textLength="132.15" lengthAdjust="spacingAndGlyphs" fill="#ffffff">Covid-19:</text>
<text x="146.93" y="31.10" font-family='"Liberation Sans", Arial, sans-serif' font-weight="bold" font-size="30.14" textLength="134.21" lengthAdjust="spacingAndGlyphs" fill="#ffffff">Evolución</text>
<text x="288.87" y="31.10" font-family='"Liberation Sans", Arial, sans-serif' font-weight="bold" font-size="30.14" textLength="32.98" lengthAdjust="spacingAndGlyphs" fill="#ffffff">de</text>
<text x="328.11" y="31.10" font-family='"Liberation Sans", Arial, sans-serif' font-weight="bold" font-size="30.14" textLength="77.33" lengthAdjust="spacingAndGlyphs" fill="#ffffff">casos</text>
<text x="411.36" y="31.10" font-family='"Liberation Sans", Arial, sans-serif' font-weight="bold" font-size="30.14" textLength="170.61" lengthAdjust="spacingAndGlyphs" fill="#ffffff">confirmados</text>
<text x="587.97" y="31.10" font-family='"Liberation Sans", Arial, sans-serif' font-weight="bold" font-size="30.14" textLength="46.75" lengthAdjust="spacingAndGlyphs" fill="#ffffff">por</text>
<text x="11.89" y="64.10" font-family='"Liberation Sans", Arial, sans-serif' font-weight="bold" font-size="29.71" textLength="54.46" lengthAdjust="spacingAndGlyphs" fill="#ffffff">PCR</text>
<text x="70.99" y="64.10" font-family='"Liberation Sans", Arial, sans-serif' font-weight="bold" font-size="29.71" textLength="17.20" lengthAdjust="spacingAndGlyphs" fill="#ffffff">y</text>
<text x="95.04" y="64.10" font-family='"Liberation Sans", Arial, sans-serif' font-weight="bold" font-size="29.71" textLength="124.56" lengthAdjust="spacingAndGlyphs" fill="#ffffff">personas</text>
<text x="225.48" y="64.10" font-family='"Liberation Sans", Arial, sans-serif' font-weight="bold" font-size="29.71" textLength="171.61" lengthAdjust="spacingAndGlyphs" fill="#ffffff">recuperadas</text>
<text x="403.91" y="64.10" font-family='"Liberation Sans", Arial, sans-serif' font-weight="bold" font-size="29.71" textLength="31.93" lengthAdjust="spacingAndGlyphs" fill="#ffffff">en</text>
<text x="441.98" y="64.10" font-family='"Liberation Sans", Arial, sans-serif' font-weight="bold" font-size="29.71" textLength="40.18" lengthAdjust="spacingAndGlyphs" fill="#ffffff">las</text>
<text x="488.21" y="64.10" font-family='"Liberation Sans", Arial, sans-serif' font-weight="bold" font-size="29.71" textLength="104.21" lengthAdjust="spacingAndGlyphs" fill="#ffffff">últimas</text>
<text x="598.54" y="64.10" font-family='"Liberation Sans", Arial, sans-serif' font-weight="bold" font-size="29.71" textLength="32.03" lengthAdjust="spacingAndGlyphs" fill="#ffffff">24</text>
<text x="637.10" y="64.10" font-family='"Liberation Sans", Arial, sans-serif' font-weight="bold" font-size="29.71" textLength="77.63" lengthAdjust="spacingAndGlyphs" fill="#ffffff">horas</text>
<text x="736.16" y="31.10" font-family='"Liberation Sans", Arial, sans-serif' font-weight="bold" font-size="29.57" textLength="153.21" lengthAdjust="spacingAndGlyphs" fill="#ffffff">17/08/2020</text>
<text x="29.03" y="127.80" font-family='"Liberation Sans", Arial, sans-serif' font-weight="bold" font-size="16.96" textLength="186.12" lengthAdjust="spacingAndGlyphs" fill="#c71e26" stroke="#c71e26" stroke-width="0.60" stroke-linejoin="round">POSITIVOS POR PCR</text>
<text x="29.06" y="147.60" font-family='"Liberation Sans", Arial, sans-serif' font-weight="bold" font-size="17.39" textLength="241.41" lengthAdjust="spacingAndGlyphs" fill="#137839" stroke="#137839" stroke-width="0.60" stroke-linejoin="round">PERSONAS RECUPERADAS</text>
<text x="80.54" y="374.80" font-family='"Liberation Sans", Arial, sans-serif' font-weight="bold" font-size="39.86" textLength="70.19" lengthAdjust="spacingAndGlyphs" fill="#c71e26" stroke="#c71e26" stroke-width="0.40" stroke-linejoin="round">526</text>
<text x="104.36" y="417.40" font-family='"Liberation Sans", Arial, sans-serif' font-weight="bold" font-size="39.72" textLength="46.51" lengthAdjust="spacingAndGlyphs" fill="#137839" stroke="#137839" stroke-width="0.40" stroke-linejoin="round">36</text>
<text x="10.49" y="464.50" font-family='"Liberation Sans", Arial, sans-serif' font-weight="bold" font-size="35.94" textLength="199.95" lengthAdjust="spacingAndGlyphs" fill="#b3b8bf" stroke="#b3b8bf" stroke-width="0.80" stroke-linejoin="round">ANDALUCÍA</text>
<text x="261.59" y="240.27" font-family='"Liberation Sans", Arial, sans-serif' font-weight="bold" font-size="27.75" textLength="17.52" lengthAdjust="spacingAndGlyphs" fill="#fff" stroke="#fff" stroke-width="1.50" stroke-linejoin="round">0</text><text x="261.59" y="240.27" font-family='"Liberation Sans", Arial, sans-serif' font-weight="bold" font-size="27.75" textLength="17.52" lengthAdjust="spacingAndGlyphs" fill="#c71e26" stroke="#c71e26" stroke-width="0.50" stroke-linejoin="round">0</text>
<text x="262.26" y="270.45" font-family='"Liberation Sans", Arial, sans-serif' font-weight="bold" font-size="27.97" textLength="15.62" lengthAdjust="spacingAndGlyphs" fill="#fff" stroke="#fff" stroke-width="1.50" stroke-linejoin="round">1</text><text x="262.26" y="270.45" font-family='"Liberation Sans", Arial, sans-serif' font-weight="bold" font-size="27.97" textLength="15.62" lengthAdjust="spacingAndGlyphs" fill="#137839" stroke="#137839" stroke-width="0.50" stroke-linejoin="round">1</text>
<text x="206.88" y="297.25" font-family='"Liberation Sans", Arial, sans-serif' font-weight="bold" font-size="21.30" textLength="83.37" lengthAdjust="spacingAndGlyphs" fill="#fff" stroke="#fff" stroke-width="3.10" stroke-linejoin="round">HUELVA</text><text x="206.88" y="297.25" font-family='"Liberation Sans", Arial, sans-serif' font-weight="bold" font-size="21.30" textLength="83.37" lengthAdjust="spacingAndGlyphs" fill="#a9adb4" stroke="#a9adb4" stroke-width="0.70" stroke-linejoin="round">HUELVA</text>
<text x="380.66" y="245.25" font-family='"Liberation Sans", Arial, sans-serif' font-weight="bold" font-size="28.55" textLength="32.64" lengthAdjust="spacingAndGlyphs" fill="#fff" stroke="#fff" stroke-width="1.50" stroke-linejoin="round">41</text><text x="380.66" y="245.25" font-family='"Liberation Sans", Arial, sans-serif' font-weight="bold" font-size="28.55" textLength="32.64" lengthAdjust="spacingAndGlyphs" fill="#c71e26" stroke="#c71e26" stroke-width="0.50" stroke-linejoin="round">41</text>
<text x="397.27" y="274.28" font-family='"Liberation Sans", Arial, sans-serif' font-weight="bold" font-size="27.32" textLength="16.45" lengthAdjust="spacingAndGlyphs" fill="#fff" stroke="#fff" stroke-width="1.50" stroke-linejoin="round">0</text><text x="397.27" y="274.28" font-family='"Liberation Sans", Arial, sans-serif' font-weight="bold" font-size="27.32" textLength="16.45" lengthAdjust="spacingAndGlyphs" fill="#137839" stroke="#137839" stroke-width="0.50" stroke-linejoin="round">0</text>
<text x="337.64" y="308.45" font-family='"Liberation Sans", Arial, sans-serif' font-weight="bold" font-size="20.87" textLength="85.57" lengthAdjust="spacingAndGlyphs" fill="#fff" stroke="#fff" stroke-width="3.10" stroke-linejoin="round">SEVILLA</text><text x="337.64" y="308.45" font-family='"Liberation Sans", Arial, sans-serif' font-weight="bold" font-size="20.87" textLength="85.57" lengthAdjust="spacingAndGlyphs" fill="#a9adb4" stroke="#a9adb4" stroke-width="0.70" stroke-linejoin="round">SEVILLA</text>
<text x="491.18" y="161.68" font-family='"Liberation Sans", Arial, sans-serif' font-weight="bold" font-size="27.32" textLength="32.10" lengthAdjust="spacingAndGlyphs" fill="#fff" stroke="#fff" stroke-width="1.50" stroke-linejoin="round">58</text><text x="491.18" y="161.68" font-family='"Liberation Sans", Arial, sans-serif' font-weight="bold" font-size="27.32" textLength="32.10" lengthAdjust="spacingAndGlyphs" fill="#c71e26" stroke="#c71e26" stroke-width="0.50" stroke-linejoin="round">58</text>
<text x="507.27" y="192.28" font-family='"Liberation Sans", Arial, sans-serif' font-weight="bold" font-size="27.18" textLength="16.45" lengthAdjust="spacingAndGlyphs" fill="#fff" stroke="#fff" stroke-width="1.50" stroke-linejoin="round">0</text><text x="507.27" y="192.28" font-family='"Liberation Sans", Arial, sans-serif' font-weight="bold" font-size="27.18" textLength="16.45" lengthAdjust="spacingAndGlyphs" fill="#137839" stroke="#137839" stroke-width="0.50" stroke-linejoin="round">0</text>
<text x="450.44" y="222.55" font-family='"Liberation Sans", Arial, sans-serif' font-weight="bold" font-size="20.87" textLength="104.45" lengthAdjust="spacingAndGlyphs" fill="#fff" stroke="#fff" stroke-width="3.10" stroke-linejoin="round">CÓRDOBA</text><text x="450.44" y="222.55" font-family='"Liberation Sans", Arial, sans-serif' font-weight="bold" font-size="20.87" textLength="104.45" lengthAdjust="spacingAndGlyphs" fill="#a9adb4" stroke="#a9adb4" stroke-width="0.70" stroke-linejoin="round">CÓRDOBA</text>
<text x="651.99" y="168.95" font-family='"Liberation Sans", Arial, sans-serif' font-weight="bold" font-size="28.70" textLength="32.81" lengthAdjust="spacingAndGlyphs" fill="#fff" stroke="#fff" stroke-width="1.50" stroke-linejoin="round">11</text><text x="651.99" y="168.95" font-family='"Liberation Sans", Arial, sans-serif' font-weight="bold" font-size="28.70" textLength="32.81" lengthAdjust="spacingAndGlyphs" fill="#c71e26" stroke="#c71e26" stroke-width="0.50" stroke-linejoin="round">11</text>
<text x="669.71" y="199.15" font-family='"Liberation Sans", Arial, sans-serif' font-weight="bold" font-size="28.99" textLength="14.32" lengthAdjust="spacingAndGlyphs" fill="#fff" stroke="#fff" stroke-width="1.50" stroke-linejoin="round">1</text><text x="669.71" y="199.15" font-family='"Liberation Sans", Arial, sans-serif' font-weight="bold" font-size="28.99" textLength="14.32" lengthAdjust="spacingAndGlyphs" fill="#137839" stroke="#137839" stroke-width="0.50" stroke-linejoin="round">1</text>
<text x="630.84" y="229.45" font-family='"Liberation Sans", Arial, sans-serif' font-weight="bold" font-size="20.72" textLength="54.38" lengthAdjust="spacingAndGlyphs" fill="#fff" stroke="#fff" stroke-width="3.10" stroke-linejoin="round">JAÉN</text><text x="630.84" y="229.45" font-family='"Liberation Sans", Arial, sans-serif' font-weight="bold" font-size="20.72" textLength="54.38" lengthAdjust="spacingAndGlyphs" fill="#a9adb4" stroke="#a9adb4" stroke-width="0.70" stroke-linejoin="round">JAÉN</text>
<text x="361.07" y="396.57" font-family='"Liberation Sans", Arial, sans-serif' font-weight="bold" font-size="28.03" textLength="32.72" lengthAdjust="spacingAndGlyphs" fill="#fff" stroke="#fff" stroke-width="1.50" stroke-linejoin="round">69</text><text x="361.07" y="396.57" font-family='"Liberation Sans", Arial, sans-serif' font-weight="bold" font-size="28.03" textLength="32.72" lengthAdjust="spacingAndGlyphs" fill="#c71e26" stroke="#c71e26" stroke-width="0.50" stroke-linejoin="round">69</text>
<text x="361.13" y="425.28" font-family='"Liberation Sans", Arial, sans-serif' font-weight="bold" font-size="27.14" textLength="31.84" lengthAdjust="spacingAndGlyphs" fill="#fff" stroke="#fff" stroke-width="1.50" stroke-linejoin="round">15</text><text x="361.13" y="425.28" font-family='"Liberation Sans", Arial, sans-serif' font-weight="bold" font-size="27.14" textLength="31.84" lengthAdjust="spacingAndGlyphs" fill="#137839" stroke="#137839" stroke-width="0.50" stroke-linejoin="round">15</text>
<text x="340.41" y="454.45" font-family='"Liberation Sans", Arial, sans-serif' font-weight="bold" font-size="20.72" textLength="63.87" lengthAdjust="spacingAndGlyphs" fill="#fff" stroke="#fff" stroke-width="3.10" stroke-linejoin="round">CÁDIZ</text><text x="340.41" y="454.45" font-family='"Liberation Sans", Arial, sans-serif' font-weight="bold" font-size="20.72" textLength="63.87" lengthAdjust="spacingAndGlyphs" fill="#a9adb4" stroke="#a9adb4" stroke-width="0.70" stroke-linejoin="round">CÁDIZ</text>
<text x="488.10" y="354.17" font-family='"Liberation Sans", Arial, sans-serif' font-weight="bold" font-size="28.03" textLength="48.58" lengthAdjust="spacingAndGlyphs" fill="#fff" stroke="#fff" stroke-width="1.50" stroke-linejoin="round">135</text><text x="488.10" y="354.17" font-family='"Liberation Sans", Arial, sans-serif' font-weight="bold" font-size="28.03" textLength="48.58" lengthAdjust="spacingAndGlyphs" fill="#c71e26" stroke="#c71e26" stroke-width="0.50" stroke-linejoin="round">135</text>
<text x="520.98" y="383.86" font-family='"Liberation Sans", Arial, sans-serif' font-weight="bold" font-size="28.73" textLength="15.91" lengthAdjust="spacingAndGlyphs" fill="#fff" stroke="#fff" stroke-width="1.50" stroke-linejoin="round">3</text><text x="520.98" y="383.86" font-family='"Liberation Sans", Arial, sans-serif' font-weight="bold" font-size="28.73" textLength="15.91" lengthAdjust="spacingAndGlyphs" fill="#137839" stroke="#137839" stroke-width="0.50" stroke-linejoin="round">3</text>
<text x="465.86" y="412.45" font-family='"Liberation Sans", Arial, sans-serif' font-weight="bold" font-size="20.72" textLength="87.25" lengthAdjust="spacingAndGlyphs" fill="#fff" stroke="#fff" stroke-width="3.10" stroke-linejoin="round">MÁLAGA</text><text x="465.86" y="412.45" font-family='"Liberation Sans", Arial, sans-serif' font-weight="bold" font-size="20.72" textLength="87.25" lengthAdjust="spacingAndGlyphs" fill="#a9adb4" stroke="#a9adb4" stroke-width="0.70" stroke-linejoin="round">MÁLAGA</text>
<text x="658.16" y="301.67" font-family='"Liberation Sans", Arial, sans-serif' font-weight="bold" font-size="27.89" textLength="32.84" lengthAdjust="spacingAndGlyphs" fill="#fff" stroke="#fff" stroke-width="1.50" stroke-linejoin="round">26</text><text x="658.16" y="301.67" font-family='"Liberation Sans", Arial, sans-serif' font-weight="bold" font-size="27.89" textLength="32.84" lengthAdjust="spacingAndGlyphs" fill="#c71e26" stroke="#c71e26" stroke-width="0.50" stroke-linejoin="round">26</text>
<text x="657.82" y="331.55" font-family='"Liberation Sans", Arial, sans-serif' font-weight="bold" font-size="28.55" textLength="31.99" lengthAdjust="spacingAndGlyphs" fill="#fff" stroke="#fff" stroke-width="1.50" stroke-linejoin="round">14</text><text x="657.82" y="331.55" font-family='"Liberation Sans", Arial, sans-serif' font-weight="bold" font-size="28.55" textLength="31.99" lengthAdjust="spacingAndGlyphs" fill="#137839" stroke="#137839" stroke-width="0.50" stroke-linejoin="round">14</text>
<text x="614.44" y="362.55" font-family='"Liberation Sans", Arial, sans-serif' font-weight="bold" font-size="20.87" textLength="103.33" lengthAdjust="spacingAndGlyphs" fill="#fff" stroke="#fff" stroke-width="3.10" stroke-linejoin="round">GRANADA</text><text x="614.44" y="362.55" font-family='"Liberation Sans", Arial, sans-serif' font-weight="bold" font-size="20.87" textLength="103.33" lengthAdjust="spacingAndGlyphs" fill="#a9adb4" stroke="#a9adb4" stroke-width="0.70" stroke-linejoin="round">GRANADA</text>
<text x="777.97" y="306.56" font-family='"Liberation Sans", Arial, sans-serif' font-weight="bold" font-size="28.59" textLength="49.53" lengthAdjust="spacingAndGlyphs" fill="#fff" stroke="#fff" stroke-width="1.50" stroke-linejoin="round">186</text><text x="777.97" y="306.56" font-family='"Liberation Sans", Arial, sans-serif' font-weight="bold" font-size="28.59" textLength="49.53" lengthAdjust="spacingAndGlyphs" fill="#c71e26" stroke="#c71e26" stroke-width="0.50" stroke-linejoin="round">186</text>
<text x="810.89" y="336.55" font-family='"Liberation Sans", Arial, sans-serif' font-weight="bold" font-size="29.14" textLength="15.89" lengthAdjust="spacingAndGlyphs" fill="#fff" stroke="#fff" stroke-width="1.50" stroke-linejoin="round">2</text><text x="810.89" y="336.55" font-family='"Liberation Sans", Arial, sans-serif' font-weight="bold" font-size="29.14" textLength="15.89" lengthAdjust="spacingAndGlyphs" fill="#137839" stroke="#137839" stroke-width="0.50" stroke-linejoin="round">2</text>
<text x="748.63" y="363.05" font-family='"Liberation Sans", Arial, sans-serif' font-weight="bold" font-size="20.72" textLength="94.56" lengthAdjust="spacingAndGlyphs" fill="#fff" stroke="#fff" stroke-width="3.10" stroke-linejoin="round">ALMERÍA</text><text x="748.63" y="363.05" font-family='"Liberation Sans", Arial, sans-serif' font-weight="bold" font-size="20.72" textLength="94.56" lengthAdjust="spacingAndGlyphs" fill="#a9adb4" stroke="#a9adb4" stroke-width="0.70" stroke-linejoin="round">ALMERÍA</text>
<text x="605.77" y="425.75" font-family='"Liberation Sans", Arial, sans-serif' font-weight="normal" font-size="14.51" textLength="57.41" lengthAdjust="spacingAndGlyphs" fill="#474747">Consulte</text>
<text x="666.40" y="425.75" font-family='"Liberation Sans", Arial, sans-serif' font-weight="normal" font-size="14.51" textLength="36.34" lengthAdjust="spacingAndGlyphs" fill="#474747">todos</text>
<text x="706.11" y="425.75" font-family='"Liberation Sans", Arial, sans-serif' font-weight="normal" font-size="14.51" textLength="18.03" lengthAdjust="spacingAndGlyphs" fill="#474747">los</text>
<text x="727.21" y="425.75" font-family='"Liberation Sans", Arial, sans-serif' font-weight="normal" font-size="14.51" textLength="36.03" lengthAdjust="spacingAndGlyphs" fill="#474747">datos</text>
<text x="766.72" y="425.75" font-family='"Liberation Sans", Arial, sans-serif' font-weight="normal" font-size="14.51" textLength="16.19" lengthAdjust="spacingAndGlyphs" fill="#474747">en</text>
<text x="785.65" y="425.75" font-family='"Liberation Sans", Arial, sans-serif' font-weight="normal" font-size="14.51" textLength="11.62" lengthAdjust="spacingAndGlyphs" fill="#474747">la</text>
<text x="800.70" y="425.75" font-family='"Liberation Sans", Arial, sans-serif' font-weight="normal" font-size="14.51" textLength="28.70" lengthAdjust="spacingAndGlyphs" fill="#474747">web</text>
<text x="831.41" y="425.75" font-family='"Liberation Sans", Arial, sans-serif' font-weight="normal" font-size="14.51" textLength="19.53" lengthAdjust="spacingAndGlyphs" fill="#474747">del</text>
<text x="605.35" y="443.10" font-family='"Liberation Sans", Arial, sans-serif' font-weight="normal" font-size="14.78" textLength="29.70" lengthAdjust="spacingAndGlyphs" fill="#474747">IECA</text>
<text x="638.60" y="443.10" font-family='"Liberation Sans", Arial, sans-serif' font-weight="normal" font-size="14.78" textLength="49.44" lengthAdjust="spacingAndGlyphs" fill="#474747">(“Portal</text>
<text x="691.09" y="443.10" font-family='"Liberation Sans", Arial, sans-serif' font-weight="normal" font-size="14.78" textLength="56.64" lengthAdjust="spacingAndGlyphs" fill="#474747">Covid-19</text>
<text x="751.44" y="443.10" font-family='"Liberation Sans", Arial, sans-serif' font-weight="normal" font-size="14.78" textLength="15.64" lengthAdjust="spacingAndGlyphs" fill="#474747">en</text>
<text x="770.70" y="443.10" font-family='"Liberation Sans", Arial, sans-serif' font-weight="normal" font-size="14.78" textLength="74.94" lengthAdjust="spacingAndGlyphs" fill="#474747">Andalucía”)</text>
</svg></body></html>
